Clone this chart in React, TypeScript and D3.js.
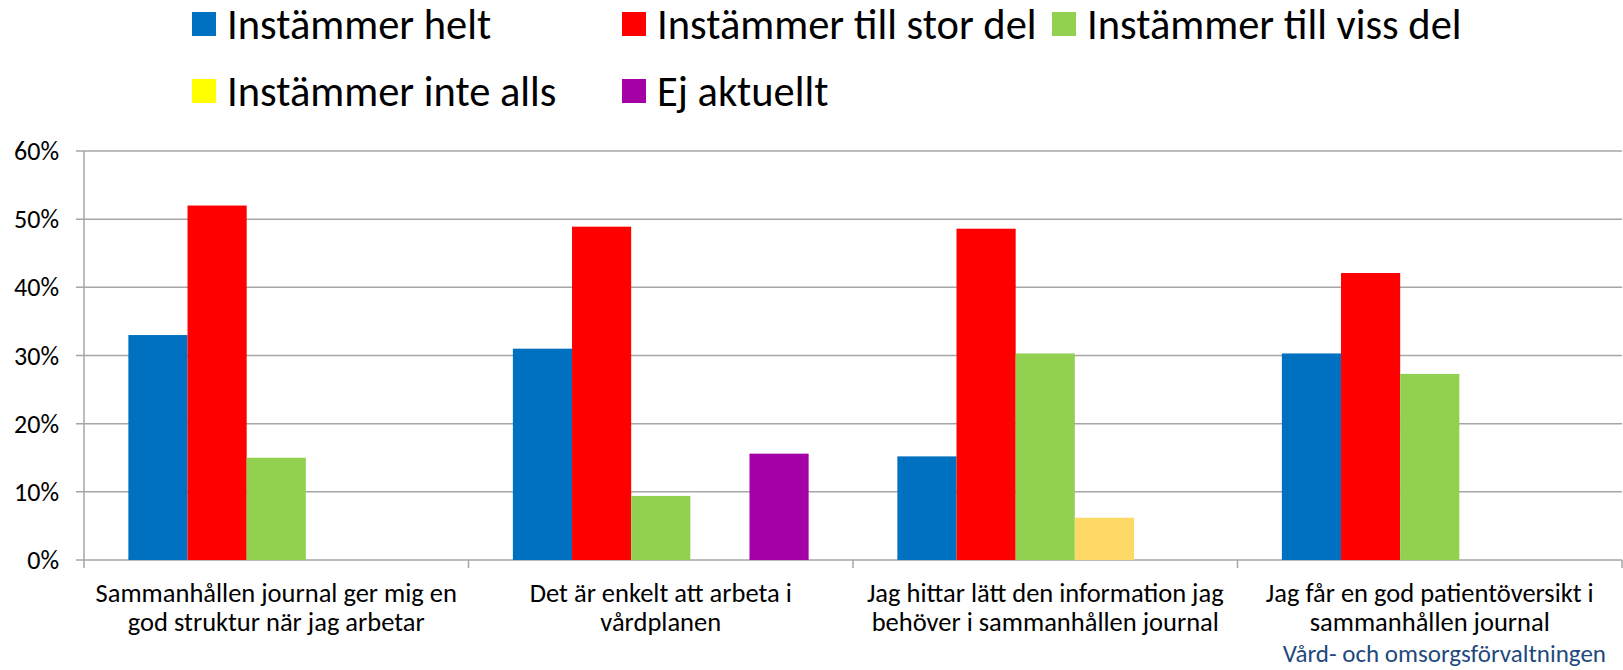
import React, { useEffect, useRef } from "react";
import * as d3 from "d3";

const categories = [
  ["Sammanhållen journal ger mig en", "god struktur när jag arbetar"],
  ["Det är enkelt att arbeta i", "vårdplanen"],
  ["Jag hittar lätt den information jag", "behöver i sammanhållen journal"],
  ["Jag får en god patientöversikt i", "sammanhållen journal"],
];

const seriesNames = [
  "Instämmer helt",
  "Instämmer till stor del",
  "Instämmer till viss del",
  "Instämmer inte alls",
  "Ej aktuellt",
];

const helt = [33, 31, 15.2, 30.3];
const storDel = [52, 48.9, 48.6, 42.1];
const vissDel = [15, 9.4, 30.3, 27.3];
const inteAlls = [0, 0, 6.2, 0];
const ejAktuellt = [0, 15.6, 0, 0];

const barColors = ["#0070C0", "#FF0000", "#92D050", "#FFD966", "#A500A5"];
const legendColors = ["#0070C0", "#FF0000", "#92D050", "#FFFF00", "#A500A5"];

const yTicks = [0, 10, 20, 30, 40, 50, 60];
const footer = "Vård- och omsorgsförvaltningen";

const FONT = "Carlito, Calibri, Lato, sans-serif";

const App = () => {
  const ref = useRef<HTMLDivElement>(null);

  useEffect(() => {
    const width = 1623, height = 670;
    const margin = { top: 151, right: 1, bottom: 110, left: 84 };

    d3.select(ref.current).select("svg").remove();
    const svg = d3.select(ref.current)
      .append("svg")
      .attr("width", width)
      .attr("height", height)
      .style("position", "absolute")
      .style("left", 0)
      .style("top", 0)
      .style("font-family", FONT);

    const x0 = d3.scaleBand<number>()
      .domain(d3.range(categories.length))
      .range([margin.left, width - margin.right]);

    // excel style gap width 150% -> 0.75 bar on each side
    const x1 = d3.scaleBand<number>()
      .domain(d3.range(seriesNames.length))
      .range([0, x0.bandwidth()])
      .paddingOuter(0.75);

    const y = d3.scaleLinear()
      .domain([0, 60])
      .range([height - margin.bottom, margin.top]);

    // gridlines
    svg.append("g")
      .selectAll("line")
      .data(yTicks)
      .enter().append("line")
      .attr("x1", margin.left - 8)
      .attr("x2", width - margin.right)
      .attr("y1", d => y(d))
      .attr("y2", d => y(d))
      .attr("stroke", "#A6A6A6")
      .attr("stroke-width", 1.5);

    // y labels
    svg.append("g")
      .selectAll("text")
      .data(yTicks)
      .enter().append("text")
      .attr("x", 59)
      .attr("y", d => y(d))
      .attr("dy", "0.35em")
      .attr("text-anchor", "end")
      .attr("font-size", 26)
      .attr("fill", "#000")
      .text(d => `${d}%`);

    const data = [helt, storDel, vissDel, inteAlls, ejAktuellt];

    // bars
    const groups = svg.append("g")
      .selectAll("g")
      .data(categories)
      .enter().append("g")
      .attr("transform", (d, i) => `translate(${x0(i)},0)`);

    groups.selectAll("rect")
      .data((d, i) => data.map((s, k) => ({ k, v: s[i] })).filter(d => d.v > 0))
      .enter().append("rect")
      .attr("x", d => x1(d.k)!)
      .attr("width", x1.bandwidth())
      .attr("y", d => y(d.v))
      .attr("height", d => y(0) - y(d.v))
      .attr("fill", d => barColors[d.k]);

    // axis lines
    svg.append("line")
      .attr("x1", margin.left).attr("x2", margin.left)
      .attr("y1", y(60)).attr("y2", y(0) + 8)
      .attr("stroke", "#A6A6A6").attr("stroke-width", 1.5);

    svg.append("g")
      .selectAll("line")
      .data(d3.range(1, categories.length + 1))
      .enter().append("line")
      .attr("x1", d => margin.left + d * x0.step())
      .attr("x2", d => margin.left + d * x0.step())
      .attr("y1", y(0))
      .attr("y2", y(0) + 8)
      .attr("stroke", "#A6A6A6").attr("stroke-width", 1.5);

    // category labels
    const labels = svg.append("g")
      .selectAll("text")
      .data(categories)
      .enter().append("text")
      .attr("text-anchor", "middle")
      .attr("font-size", 26.5)
      .attr("fill", "#000");
    labels.selectAll("tspan")
      .data((d, i) => d.map(line => ({ line, i })))
      .enter().append("tspan")
      .attr("x", d => x0(d.i)! + x0.bandwidth() / 2)
      .attr("y", (d, j) => 602 + j * 29)
      .text(d => d.line);

    svg.append("text")
      .attr("x", 1606)
      .attr("y", 662)
      .attr("text-anchor", "end")
      .attr("font-size", 25)
      .attr("fill", "#1F497D")
      .text(footer);

    // legend
    const legendPos = [
      [192, 12], [622, 12], [1052, 12],
      [192, 79], [622, 79],
    ];
    const legend = svg.append("g")
      .selectAll("g")
      .data(seriesNames)
      .enter().append("g")
      .attr("transform", (d, i) => `translate(${legendPos[i][0]},${legendPos[i][1]})`);
    legend.append("rect")
      .attr("width", 24)
      .attr("height", 24)
      .attr("fill", (d, i) => legendColors[i]);
    legend.append("text")
      .attr("x", 35)
      .attr("y", 12)
      .attr("dy", "0.36em")
      .attr("font-size", 42.5)
      .attr("fill", "#000")
      .text(d => d);
  }, []);

  return <div ref={ref}></div>;
};

export default App;
